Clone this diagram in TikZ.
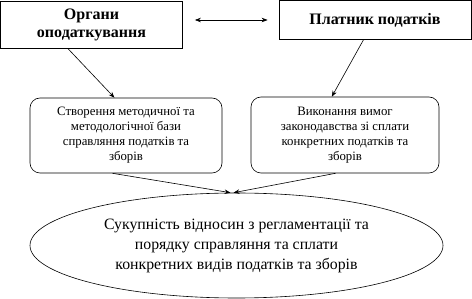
\documentclass[tikz,border=0pt]{standalone}
\usepackage{fontspec}
\setmainfont{Liberation Serif}
\newfontfamily\tms{Liberation Serif}
\usetikzlibrary{shapes.geometric,calc,arrows.meta}
\begin{document}
\begin{tikzpicture}[x=1pt,y=-1pt,
  sqbox/.style={draw,line width=0.8pt,inner sep=0pt,align=center,font=\tms\fontsize{16}{18}\selectfont\bfseries},
  rbox/.style={draw,line width=0.6pt,rounded corners=10pt,inner sep=0pt,align=center,font=\tms\fontsize{12.8}{15}\selectfont},
  ellbox/.style={draw,ellipse,line width=0.6pt,inner sep=0pt,align=center,font=\tms\fontsize{15.8}{20}\selectfont},
  arr/.style={line width=0.6pt,-{Stealth[length=6pt,width=4.5pt]}},
  darr/.style={line width=0.6pt,{Stealth[length=6pt,width=4.5pt]}-{Stealth[length=6pt,width=4.5pt]}}]
\useasboundingbox (0,0) rectangle (472,299);
\node[sqbox,minimum width=182pt,minimum height=47pt] (org) at (91.5,24.5) {Органи\\оподаткування};
\node[sqbox,minimum width=192pt,minimum height=39pt] (plat) at (375,20) {Платник податків};
\node[rbox,minimum width=192pt,minimum height=75pt] (stv) at (126,135.5) {Створення методичної та\\методологічної бази\\справляння податків та\\зборів};
\node[rbox,minimum width=188pt,minimum height=76pt] (vyk) at (345,135) {Виконання вимог\\законодавства зі сплати\\конкретних податків та\\зборів};
\node[ellbox,minimum width=413pt,minimum height=105pt] (suk) at (236.5,245.5) {Сукупність відносин з регламентації та\\порядку справляння та сплати\\конкретних видів податків та зборів};
\draw[darr] ($(org.east|-plat.west)+(12,0)$) -- ($(plat.west)+(-11,0)$);
\draw[arr] ($(org.south west)!0.37!(org.south east)$) -- ($(stv.north west)!0.44!(stv.north east)$);
\draw[arr] ($(plat.south west)!0.44!(plat.south east)$) -- ($(vyk.north west)!0.43!(vyk.north east)$);
\draw[arr] ($(stv.south west)!0.43!(stv.south east)$) -- ($(suk.north)+(-6,0)$);
\draw[arr] ($(vyk.south west)!0.45!(vyk.south east)$) -- ($(suk.north)+(-3,0)$);
\end{tikzpicture}
\end{document}
